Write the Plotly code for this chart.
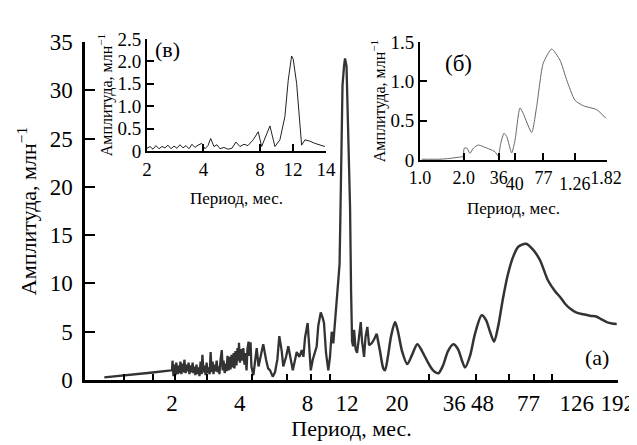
import math
import plotly.graph_objects as go

# ---------------- data ----------------
# main panel (а): period (months) vs amplitude
main_period = [1.00, 1.22, 1.60, 1.98, 2.00, 2.01, 2.03, 2.05, 2.07, 2.09, 2.12, 2.14, 2.16, 2.18, 2.20,
               2.23, 2.25, 2.27, 2.30, 2.32, 2.34, 2.37, 2.39, 2.42, 2.44, 2.47, 2.49, 2.52, 2.54, 2.57,
               2.60, 2.62, 2.65, 2.68, 2.71, 2.73, 2.76, 2.79, 2.82, 2.85, 2.88, 2.91, 2.94, 2.97, 3.00,
               3.03, 3.06, 3.09, 3.12, 3.16, 3.19, 3.22, 3.25, 3.29, 3.33, 3.36, 3.39, 3.43, 3.46, 3.50,
               3.53, 3.57, 3.61, 3.64, 3.68, 3.72, 3.76, 3.79, 3.83, 3.87, 3.91, 3.95, 3.97, 4.01, 4.05,
               4.10, 4.15, 4.20, 4.24, 4.29, 4.33, 4.38, 4.42, 4.47, 4.51, 4.60, 4.68, 4.76, 4.85, 4.95,
               5.09, 5.24, 5.35, 5.46, 5.61, 5.74, 5.88, 6.00, 6.15, 6.25, 6.43, 6.58, 6.75, 6.89, 7.05,
               7.17, 7.37, 7.55, 7.68, 7.81, 8.02, 8.16, 8.28, 8.45, 8.65, 8.80, 8.94, 9.17, 9.36, 9.48,
               9.68, 9.91, 10.08, 10.26, 10.43, 10.62, 10.80, 10.98, 11.12, 11.23, 11.35, 11.46, 11.64,
               11.76, 11.94, 12.07, 12.19, 12.38, 12.51, 12.64, 12.77, 12.90, 13.10, 13.30, 13.50, 13.81,
               14.00, 14.29, 14.51, 14.78, 15.04, 15.46, 15.83, 16.26]
main_amp = [0.28, 0.45, 0.75, 1.0, 1.0, 2.0, 0.4, 1.6, 0.5, 1.8, 0.6, 1.5, 0.7, 1.9, 0.6,
            1.7, 0.8, 2.1, 0.7, 1.6, 0.9, 1.8, 0.6, 1.5, 0.8, 1.8, 0.7, 1.4, 0.5, 1.6,
            0.6, 1.3, 0.4, 1.9, 0.6, 2.6, 0.8, 1.5, 0.5, 1.8, 0.7, 1.3, 0.6, 2.9, 0.8,
            1.9, 0.6, 1.6, 0.9, 2.0, 0.8, 1.4, 0.6, 2.2, 3.1, 1.0, 2.0, 0.7, 1.7, 0.9,
            2.5, 1.0, 2.4, 1.1, 2.6, 1.3, 2.8, 1.2, 3.0, 1.5, 3.3, 2.0, 3.86, 1.8, 3.2,
            2.0, 3.3, 1.6, 2.8, 1.0, 3.2, 3.97, 2.5, 3.9, 1.4, 0.5, 2.3, 3.3, 1.4, 2.5,
            3.7, 2.1, 1.2, 1.0, 0.35, 0.8, 2.1, 4.55, 3.0, 1.4, 2.4, 3.5, 2.1, 1.0, 2.1,
            2.9, 2.4, 3.1, 2.4, 4.4, 5.9, 3.6, 1.0, 2.1, 2.8, 3.5, 5.6, 7.0, 6.4, 5.9,
            2.8, 1.0, 2.4, 5.0, 3.8, 6.2, 9.0, 10.7, 12.0, 17.9, 25.0, 30.5, 32.5,
            33.3, 32.5, 28.0, 23.8, 17.9, 9.3, 4.0, 3.5, 5.2, 3.2, 2.8, 4.0, 6.0,
            4.0, 2.4, 4.5, 5.5, 3.6, 3.8, 4.2, 4.8]
# smooth long-period part of the main panel
long_period = [16.26, 16.82, 17.40, 17.71, 18.26, 18.83, 19.62, 20.23, 21.08, 22.25, 23.35, 24.66,
               25.87, 27.51, 28.96, 30.58, 32.07, 33.75, 35.64, 37.39, 38.96, 40.17, 42.29, 44.51,
               47.67, 49.82, 51.90, 54.08, 56.34, 59.30, 62.42, 65.86, 69.32, 75.01, 80.59, 86.59,
               93.98, 100.98, 106.3, 111.9, 117.8, 125.2, 134.9, 144.4, 154.7, 161.7, 171.4, 181.0, 189.9]
long_amp = [4.8, 3.0, 1.2, 1.0, 2.5, 4.5, 6.0, 5.0, 3.0, 1.65, 2.6, 3.7,
            3.0, 1.8, 1.0, 0.7, 1.5, 3.0, 3.7, 3.2, 2.0, 1.3, 2.5, 4.8,
            6.7, 6.2, 5.0, 3.97, 5.5, 8.5, 11.0, 12.8, 13.8, 14.1, 13.5, 12.4,
            10.3, 9.2, 8.6, 7.9, 7.4, 7.0, 6.8, 6.65, 6.55, 6.3, 6.0, 5.85, 5.8]
main_tick_vals = [2, 4, 8, 12, 20, 36, 48, 77, 126, 192]
main_tick_text = ["2", "4", "8", "12", "20", "36", "48", "77", "126", "192"]
main_minor_ticks = [1.22, 1.65, 2.06, 2.86, 4.54, 6.49, 8.30, 10.08, 27.8, 45.0, 63.1, 81.4, 97.9]
main_y_ticks = [0, 5, 10, 15, 20, 25, 30, 35]

# inset (в)
v_period = [2.00, 2.075, 2.153, 2.233, 2.317, 2.404, 2.494, 2.588, 2.685, 2.785, 2.890, 2.998, 3.110,
            3.227, 3.348, 3.474, 3.604, 3.739, 3.913, 4.074, 4.227, 4.369, 4.550, 4.721, 4.898, 5.144,
            5.402, 5.674, 5.959, 6.259, 6.573, 6.904, 7.368, 7.834, 8.168, 8.506, 9.044, 9.617, 10.225,
            10.871, 11.320, 11.802, 12.036, 12.549, 13.067, 13.343, 13.894, 14.772, 15.707, 16.701, 17.757]
v_amp = [0.06, 0.10, 0.04, 0.12, 0.05, 0.10, 0.07, 0.13, 0.05, 0.11, 0.06, 0.14, 0.07,
         0.12, 0.05, 0.15, 0.08, 0.13, 0.17, 0.05, 0.12, 0.28, 0.10, 0.14, 0.05, 0.08,
         0.04, 0.06, 0.20, 0.10, 0.15, 0.12, 0.25, 0.43, 0.10, 0.30, 0.56, 0.10, 0.25,
         0.77, 1.58, 2.12, 2.05, 1.51, 0.54, 0.13, 0.25, 0.22, 0.17, 0.13, 0.10]
v_tick_vals = [2, 4, 8, 12, 18]
v_tick_text = ["2", "4", "8", "12", "14"]
v_y_vals = [0, 0.5, 1.0, 1.5, 2.0, 2.5]
v_y_text = ["0", "0.5", "1.0", "1.5", "2.0", "2.5"]

# inset (б)
b_period = [10.27, 13.74, 16.0, 19.39, 19.8, 20.21, 21.09, 22.12, 23.32, 25.24, 27.33, 30.39, 32.90,
            34.67, 36.04, 37.96, 39.62, 42.89, 45.21, 48.94, 51.57, 58.94, 63.80, 70.84, 80.96, 92.37,
            102.7, 117.2, 133.7, 165.4, 191.8]
b_amp = [0.01, 0.01, 0.02, 0.04, 0.04, 0.15, 0.15, 0.085, 0.15, 0.19, 0.17, 0.136, 0.105,
         0.05, 0.21, 0.34, 0.30, 0.09, 0.25, 0.66, 0.59, 0.35, 0.68, 1.23, 1.41, 1.27,
         1.02, 0.76, 0.69, 0.64, 0.53]
b_tick_vals = [10, 20, 35, 71, 192]
b_tick_text = ["1.0", "2.0", "36", "77", "1.82"]
b_low_vals = [45, 117]
b_low_text = ["40", "1.26"]
b_y_vals = [0, 0.5, 1.0, 1.5]
b_y_text = ["0", "0.5", "1.0", "1.5"]

# ---------------- figure ----------------
FONT = "Liberation Serif"
fig = go.Figure()
fig.add_trace(go.Scatter(x=main_period, y=main_amp, mode="lines", xaxis="x", yaxis="y",
                         line=dict(color="#333333", width=2.3), showlegend=False))
fig.add_trace(go.Scatter(x=long_period, y=long_amp, mode="lines", xaxis="x", yaxis="y",
                         line=dict(color="#333333", width=2.5, shape="spline", smoothing=0.8),
                         showlegend=False))
fig.add_trace(go.Scatter(x=v_period, y=v_amp, mode="lines", xaxis="x2", yaxis="y2",
                         line=dict(color="#222222", width=1), showlegend=False))
fig.add_trace(go.Scatter(x=b_period, y=b_amp, mode="lines", xaxis="x3", yaxis="y3",
                         line=dict(color="#666666", width=1, shape="spline", smoothing=0.6),
                         showlegend=False))
fig.add_trace(go.Scatter(x=[None], y=[None], mode="lines", xaxis="x4", yaxis="y3",
                         showlegend=False, hoverinfo="skip"))

axis_common = dict(showgrid=False, zeroline=False, showline=True, linecolor="black",
                   tickcolor="black", automargin=False)
ytitle = "Амплитуда, млн<sup>−1</sup>"

fig.update_layout(
    width=629, height=437, template="none",
    margin=dict(l=77, r=19, t=31, b=65),
    paper_bgcolor="white", plot_bgcolor="white",
    font=dict(family=FONT, color="black"),
    xaxis=dict(axis_common, type="log", domain=[0, 1], anchor="y",
               range=[math.log10(0.8206), math.log10(192.4)],
               tickmode="array", tickvals=main_tick_vals, ticktext=main_tick_text, ticks="",
               linewidth=2.5, tickfont=dict(size=23), ticklabelstandoff=1,
               minor=dict(tickmode="array", tickvals=main_minor_ticks, ticks="inside",
                          ticklen=6, tickwidth=2, tickcolor="black", showgrid=False),
               title=dict(text="Период, мес.", font=dict(size=22), standoff=1)),
    yaxis=dict(axis_common, domain=[0, 338 / 341], anchor="x", range=[0, 35],
               tickmode="array", tickvals=main_y_ticks, ticks="inside", ticklen=10, tickwidth=2,
               linewidth=2.5, tickfont=dict(size=23), ticklabelstandoff=5,
               title=dict(text=ytitle, font=dict(size=22), standoff=7)),
    xaxis2=dict(axis_common, type="log", domain=[62 / 533, 241 / 533], anchor="y2",
                range=[math.log10(2), math.log10(18)],
                tickmode="array", tickvals=v_tick_vals, ticktext=v_tick_text, ticks="inside",
                ticklen=7, tickwidth=2, linewidth=2, tickfont=dict(size=19),
                title=dict(text="Период, мес.", font=dict(size=17), standoff=13)),
    yaxis2=dict(axis_common, domain=[229 / 341, 1.0], anchor="x2", range=[0, 2.5],
                tickmode="array", tickvals=v_y_vals, ticktext=v_y_text, ticks="inside",
                ticklen=7, tickwidth=2, linewidth=2, tickfont=dict(size=19),
                title=dict(text=ytitle, font=dict(size=16), standoff=1)),
    xaxis3=dict(axis_common, type="log", domain=[335 / 533, 522 / 533], anchor="y3",
                range=[1, math.log10(195)],
                tickmode="array", tickvals=b_tick_vals, ticktext=b_tick_text, ticks="inside",
                ticklen=7, tickwidth=2, linewidth=2, tickfont=dict(size=18),
                minor=dict(tickmode="array", tickvals=b_low_vals, ticks="inside",
                           ticklen=7, tickwidth=2, tickcolor="black", showgrid=False),
                title=dict(text="Период, мес.", font=dict(size=17), standoff=16)),
    xaxis4=dict(type="log", overlaying="x3", anchor="y3", range=[1, math.log10(195)],
                tickmode="array", tickvals=b_low_vals, ticktext=b_low_text, ticks="",
                showline=False, showgrid=False, zeroline=False, tickfont=dict(size=18),
                ticklabelstandoff=11, automargin=False),
    yaxis3=dict(axis_common, domain=[220 / 341, 338 / 341], anchor="x3", range=[0, 1.5],
                tickmode="array", tickvals=b_y_vals, ticktext=b_y_text, ticks="inside",
                ticklen=7, tickwidth=2, linewidth=2, tickfont=dict(size=19),
                title=dict(text=ytitle, font=dict(size=16), standoff=1)),
    annotations=[
        dict(text="(а)", x=512 / 533, y=23 / 341, xref="paper", yref="paper",
             xanchor="center", yanchor="middle", showarrow=False, font=dict(size=22)),
        dict(text="(б)", x=373 / 533, y=317 / 341, xref="paper", yref="paper",
             xanchor="center", yanchor="middle", showarrow=False, font=dict(size=23)),
        dict(text="(в)", x=82 / 533, y=330 / 341, xref="paper", yref="paper",
             xanchor="center", yanchor="middle", showarrow=False, font=dict(size=22)),
    ],
)

fig.write_html("out.html")
